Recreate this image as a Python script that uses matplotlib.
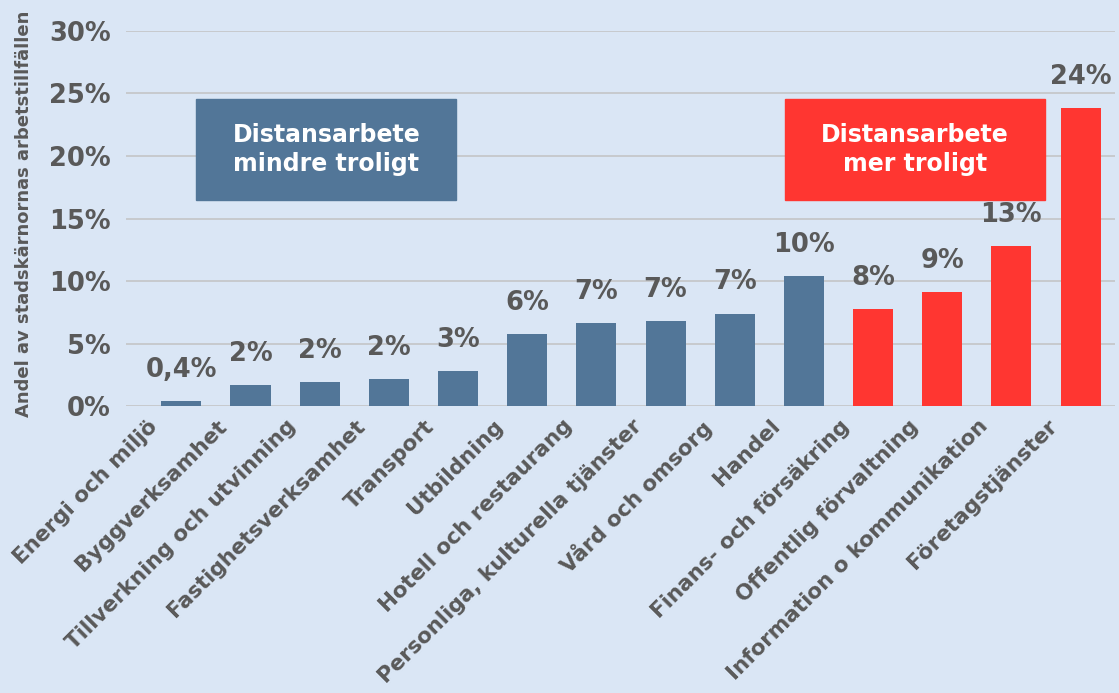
import matplotlib.pyplot as plt
from matplotlib.patches import Rectangle
from matplotlib.transforms import ScaledTranslation

# data
branscher = [
    "Energi och miljö", "Byggverksamhet", "Tillverkning och utvinning",
    "Fastighetsverksamhet", "Transport", "Utbildning", "Hotell och restaurang",
    "Personliga, kulturella tjänster", "Vård och omsorg", "Handel",
    "Finans- och försäkring", "Offentlig förvaltning",
    "Information o kommunikation", "Företagstjänster",
]
andel = [0.4, 1.65, 1.92, 2.16, 2.77, 5.78, 6.64, 6.8, 7.4, 10.4, 7.76, 9.12, 12.8, 23.84]
etiketter = ["0,4%", "2%", "2%", "2%", "3%", "6%", "7%", "7%", "7%", "10%",
             "8%", "9%", "13%", "24%"]
mer_troligt = [False] * 10 + [True] * 4

BG = "#dae6f5"
BLA = "#527698"
ROD = "#ff3631"
GRA = "#595959"

plt.rcParams['font.family'] = ['DejaVu Sans']

fig = plt.figure(figsize=(11.19, 6.93), dpi=100, facecolor=BG)
ax = fig.add_axes([0.1126, 0.4141, 0.884, 0.5412], facecolor=BG)

x = list(range(len(branscher)))
farger = [ROD if m else BLA for m in mer_troligt]
ax.bar(x, andel, width=0.58, color=farger, zorder=3)

# värden ovanför staplarna
for xi, v, t in zip(x, andel, etiketter):
    ax.annotate(t, (xi, v), xytext=(0, 13), textcoords="offset points",
                ha="center", va="bottom", fontsize=18.5, fontweight="bold",
                color=GRA, annotation_clip=False)

ax.set_xlim(-0.8, 13.5)
ax.set_ylim(0, 30)
ax.set_yticks(range(0, 31, 5))
ax.set_yticklabels([f"{t}%" for t in range(0, 31, 5)], fontsize=18.5,
                   fontweight="bold", color=GRA)
ax.yaxis.grid(True, color="#c6c8ca", linewidth=1.3, zorder=0)
ax.tick_params(axis="y", length=0, pad=11)
ax.tick_params(axis="x", length=0, pad=0)
ax.set_xticks(x)
ax.set_xticklabels(branscher, rotation=45, ha="right", rotation_mode="anchor",
                   fontsize=15.5, fontweight="bold", color=GRA)
# flytta kategorietiketterna lite åt vänster/ner
skift = ScaledTranslation(-0.34, -0.10, fig.dpi_scale_trans)
for lbl in ax.get_xticklabels():
    lbl.set_transform(lbl.get_transform() + skift)
for s in ax.spines.values():
    s.set_visible(False)

ax.set_ylabel("Andel av stadskärnornas arbetstillfällen", fontsize=13,
              fontweight="bold", color=GRA)
ax.yaxis.set_label_coords(-0.094, 0.512)

# rutor
ax.add_patch(Rectangle((0.217, 16.48), 3.76, 8.08, color=BLA, zorder=4))
ax.text(0.217 + 3.76 / 2, 16.48 + 8.08 / 2, "Distansarbete\nmindre troligt",
        ha="center", va="center", fontsize=17, fontweight="bold",
        color="white", linespacing=1.3, zorder=5)
ax.add_patch(Rectangle((8.72, 16.48), 3.76, 8.08, color=ROD, zorder=4))
ax.text(8.72 + 3.76 / 2, 16.48 + 8.08 / 2, "Distansarbete\nmer troligt",
        ha="center", va="center", fontsize=17, fontweight="bold",
        color="white", linespacing=1.3, zorder=5)

fig.savefig("out.png", dpi=100, facecolor=BG)
